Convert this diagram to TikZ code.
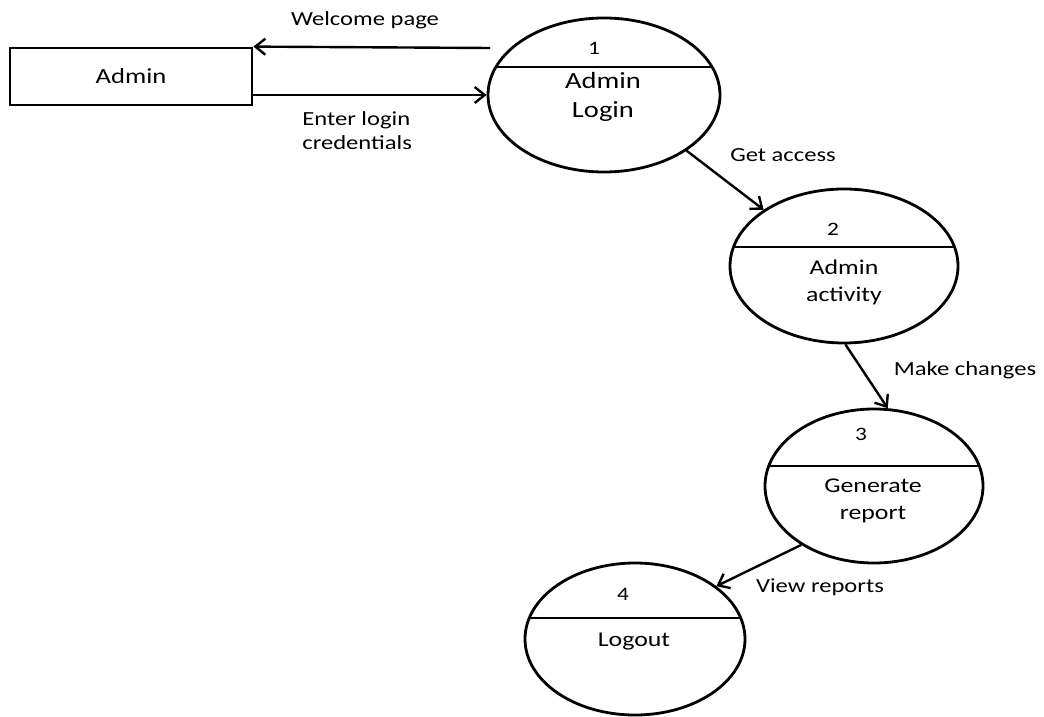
\documentclass[tikz,border=0pt]{standalone}
\usepackage{fontspec}
\setmainfont{Carlito}[FakeStretch=1.23]
\usetikzlibrary{shapes.geometric,arrows.meta}

\tikzset{
  >={Straight Barb[length=5pt,width=8pt]},
  entity/.style={draw, line width=1.4pt, rectangle, minimum width=121pt, minimum height=28.5pt, inner sep=0pt, font=\fontsize{10.8}{13}\selectfont},
  process/.style={draw, line width=1.4pt, ellipse, inner sep=0pt, minimum height=77pt},
  divider/.style={path picture={\draw[line width=1.4pt] ([yshift=#1]path picture bounding box.west) -- ([yshift=#1]path picture bounding box.east);}},
  pnum/.style={font=\fontsize{9.5}{11}\selectfont, inner sep=0pt},
  pname/.style={align=center, font=\fontsize{10.5}{13.5}\selectfont, inner sep=0pt},
  flow/.style={->, line width=1.2pt},
  flowlabel/.style={font=\fontsize{10}{12}\selectfont, inner sep=0pt}
}

\begin{document}
\begin{tikzpicture}[x=0.5pt, y=-0.5pt]
  \useasboundingbox (0,0) rectangle (1044,717);

  % external entity
  \node[entity] (admin) at (131,76.5) {Admin};

  % processes
  \node[process, minimum width=116pt, divider=14pt] (p1) at (604,95) {};
  \node[process, minimum width=114pt, divider=9.5pt] (p2) at (844,266) {};
  \node[process, minimum width=109pt, divider=10pt] (p3) at (874,486) {};
  \node[process, minimum width=110pt, minimum height=76pt, divider=10.5pt] (p4) at (635,639) {};

  \node[pnum] (p1num) at (594,48) {1};
  \node[pname, font=\fontsize{11.6}{14.5}\selectfont] (p1name) at (603,97) {Admin\\Login};
  \node[pnum] (p2num) at (833,229) {2};
  \node[pname] (p2name) at (844,282) {Admin\\activity};
  \node[pnum] (p3num) at (861,434) {3};
  \node[pname] (p3name) at (873,501) {Generate\\report};
  \node[pnum] (p4num) at (623,594) {4};
  \node[pname] (p4name) at (634,642) {Logout};

  % data flows
  \coordinate (wpstart) at (490,48);
  \draw[flow] (wpstart) -- (admin.north east);
  \draw[flow] (admin.east |- p1.west) -- (p1.west);
  \draw[flow] (p1.-34.5) -- (p2.145.6);
  \draw[flow] (p2.-89) -- (p3.80);
  \draw[flow] (p3.219.5) -- (p4.33);

  % flow labels
  \node[flowlabel] (wplabel) at (365,20) {Welcome page};
  \node[flowlabel, align=left, anchor=west] (loginlabel) at (302,131) {Enter login\\credentials};
  \node[flowlabel] (accesslabel) at (783,155) {Get access};
  \node[flowlabel] (changeslabel) at (965,370) {Make changes};
  \node[flowlabel] (reportslabel) at (820,587) {View reports};
\end{tikzpicture}
\end{document}
